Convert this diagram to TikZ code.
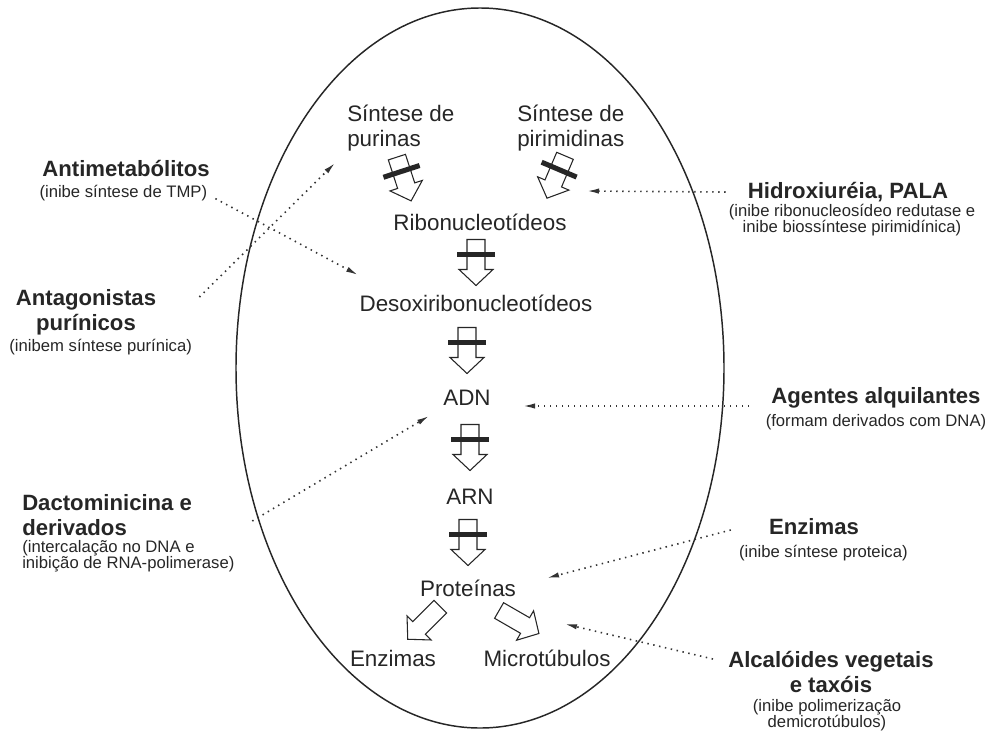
\documentclass[tikz,border=0pt]{standalone}
\usepackage{fontspec}
\setmainfont{Liberation Sans}
\usetikzlibrary{arrows.meta,positioning}

\tikzset{
  stage/.style={font=\fontsize{16.8}{18.75}\selectfont, text=black!85, inner sep=0pt},
  drug/.style={font=\fontsize{16.6}{18.5}\selectfont\bfseries, text=black!85, inner sep=0pt, align=center},
  note/.style={font=\fontsize{12.5}{12}\selectfont, text=black!85, inner sep=0pt, align=center},
  inhib/.style={draw=black!80, line width=1.2pt, dash pattern=on 1.1pt off 3.4pt, -{Latex[length=9pt,width=4pt]}},
  hollow/.pic={
    \draw[line width=0.8pt, black!85, fill=white]
      (-23,-9) -- (7,-9) -- (7,-17) -- (23,0) -- (7,17) -- (7,9) -- (-23,9) -- cycle;
  },
  blocked/.pic={
    \pic[transform shape] {hollow};
    \draw[line width=3.8pt, black!85] (-8,-19) -- (-8,19);
  }
}

\begin{document}
\begin{tikzpicture}[x=0.75pt,y=-0.75pt]
    \useasboundingbox (0,0) rectangle (989,732);
    % Cell
    \draw[line width=1.1pt, black!85] (480,368) ellipse [x radius=183pt, y radius=270pt];

    % Stages
    \node[stage, align=left, anchor=west] (purinas) at (347,128) {Síntese de\\purinas};
    \node[stage, align=left, anchor=west] (pirimid) at (517,128) {Síntese de\\pirimidinas};
    \node[stage] (ribo) at (480,222) {Ribonucleotídeos};
    \node[stage] (desoxi) at (476,303) {Desoxiribonucleotídeos};
    \node[stage] (adn) at (467,398) {ADN};
    \node[stage] (arn) at (470,497) {ARN};
    \node[stage] (prot) at (468,588) {Proteínas};
    \node[stage] (enzimas) at (393,658) {Enzimas};
    \node[stage] (micro) at (547,658) {Microtúbulos};

    % Blocked steps
    \pic[rotate=-72] at (404,179) {blocked};
    \pic[rotate=-113] at (556,177) {blocked};
    \path (ribo -| desoxi) -- (desoxi.center) pic[pos=.5, sloped, allow upside down] {blocked};
    \path (desoxi -| adn) -- (adn.center) pic[pos=.5, sloped, allow upside down] {blocked};
    \path (adn -| arn) -- (arn.center) pic[pos=.5, sloped, allow upside down] {blocked};
    \path (arn -| prot) -- (prot.center) pic[pos=.5, sloped, allow upside down] {blocked};
    \pic[rotate=-135] at (424,623) {hollow};
    \pic[rotate=-30] at (519,622) {hollow};

    % Drugs
    \node[drug] (antimet) at (126,168) {Antimetabólitos};
    \node[note, below=6pt of antimet, xshift=-2pt] (antimetnote) {(inibe síntese de TMP)};
    \node[drug] (antag) at (86,312) {Antagonistas\\purínicos};
    \node[note, below=3pt of antag, xshift=11pt] (antagnote) {(inibem síntese purínica)};
    \node[drug, align=left, anchor=west] (dact) at (22,515) {Dactominicina e\\derivados};
    \node[note, align=left, below=3pt of dact.south west, anchor=north west] (dactnote) {(intercalação no DNA e\\inibição de RNA-polimerase)};
    \node[drug] (hidrox) at (848,192) {Hidroxiuréia, PALA};
    \node[note, below=1.5pt of hidrox, xshift=3pt] (hidroxnote) {(inibe ribonucleosídeo redutase e\\inibe biossíntese pirimidínica)};
    \node[drug] (agentes) at (876,398) {Agentes alquilantes};
    \node[note, below=4pt of agentes] (agentesnote) {(formam derivados com DNA)};
    \node[drug] (enzdrug) at (814,527) {Enzimas};
    \node[note, below=7pt of enzdrug, xshift=7pt] (enznote) {(inibe síntese proteica)};
    \node[drug] (alcal) at (831,672) {Alcalóides vegetais\\e taxóis};
    \node[note, below=5pt of alcal, xshift=-3pt] (alcalnote) {(inibe polimerização\\demicrotúbulos)};

    % Targets
    \coordinate (antimettip) at (358,275);
    \coordinate (antagtip) at (335,163);
    \coordinate (dacttip) at (429,416);
    \coordinate (hidroxtip) at (587,191);
    \coordinate (agentestip) at (523,406);
    \coordinate (enztip) at (547,578);
    \coordinate (alcaltip) at (565,624);

    % Inhibitions
    \draw[inhib] ([shift={(8,6)}]antimetnote.east) -- (antimettip);
    \draw[inhib] ([shift={(43,-15)}]antag.east) -- (antagtip);
    \draw[inhib] ([shift={(60,6)}]dact.east) -- (dacttip);
    \draw[inhib] ([shift={(-22,0)}]hidrox.west) -- (hidroxtip);
    \draw[inhib] ([shift={(-22,8)}]agentes.west) -- (agentestip);
    \draw[inhib] ([shift={(-38,3)}]enzdrug.west) -- (enztip);
    \draw[inhib] ([shift={(-15,-13)}]alcal.west) -- (alcaltip);
\end{tikzpicture}
\end{document}
